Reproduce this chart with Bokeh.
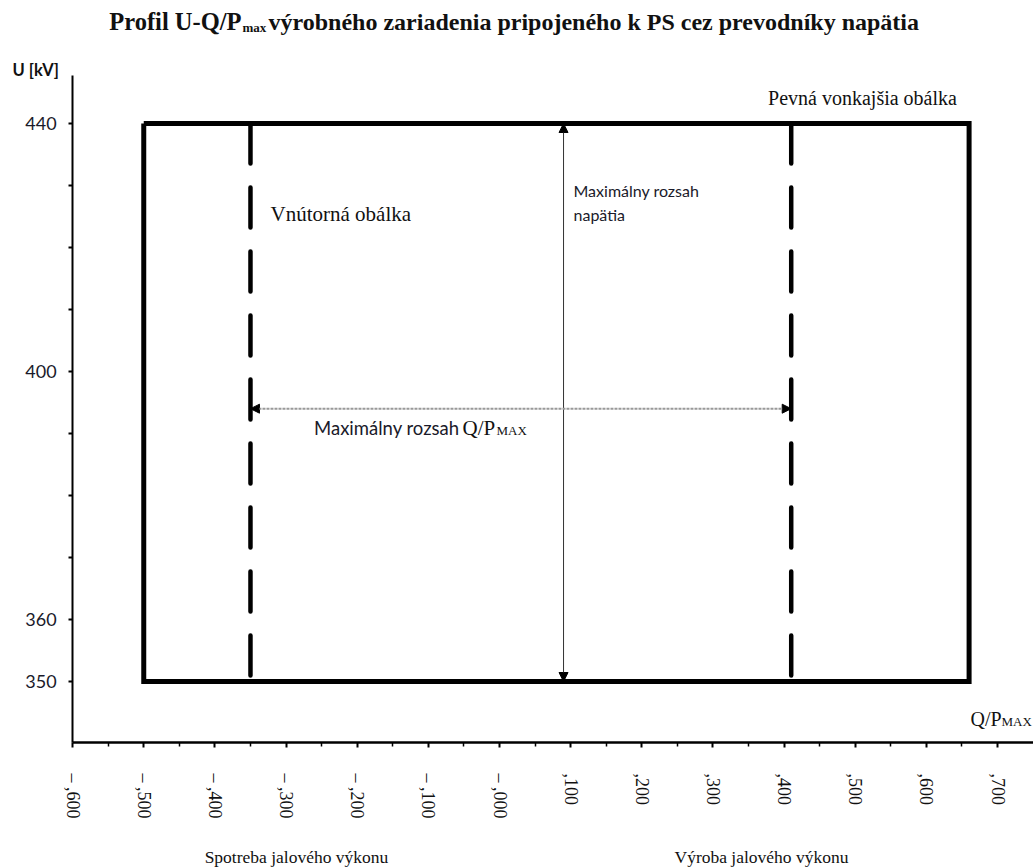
from bokeh.plotting import figure
from bokeh.models import Label, Arrow, NormalHead, FixedTicker, Range1d
from bokeh.embed import file_html
from bokeh.resources import INLINE

# ---------------- data ----------------
title_a = "Profil U-Q/P"
title_sub = "max"
title_b = "výrobného zariadenia pripojeného k PS cez prevodníky napätia"

outer_q = [-0.5, 0.66]          # fixed outer envelope, Q/Pmax
outer_u = [350, 440]            # fixed outer envelope, kV
inner_q = [-0.35, 0.41]         # inner envelope, Q/Pmax
inner_u = [350, 440]
voltage_arrow_q = 0.09
q_arrow_u = 394

x_ticks = [-0.6, -0.5, -0.4, -0.3, -0.2, -0.1, 0.0, 0.1, 0.2, 0.3, 0.4, 0.5, 0.6, 0.7]
x_tick_labels = ["– ,600", "– ,500", "– ,400", "– ,300", "– ,200", "– ,100", "– ,000",
                 ",100", ",200", ",300", ",400", ",500", ",600", ",700"]
x_minor_ticks = [-0.55, -0.45, -0.35, -0.25, -0.15, -0.05, 0.05, 0.15, 0.25, 0.35,
                 0.45, 0.55, 0.65]
y_ticks = [350, 360, 400, 440]
y_minor_ticks = [370, 380, 390, 410, 420, 430]

# ---------------- layout helpers (screen px -> data) ----------------
W, H = 1033, 868
X0, XS = 499.0, 711.5      # px of Q=0, px per unit Q
Y0, YS = 123.0, 6.2        # px of U=440, px per kV
def X(px):
    return (px - X0) / XS
def Y(py):
    return 440 - (py - Y0) / YS

p = figure(width=W, height=H, title=None,
           x_range=Range1d(X(0), X(W)), y_range=Range1d(Y(H), Y(0)),
           min_border_left=0, min_border_right=0, min_border_top=0, min_border_bottom=0,
           output_backend="svg", toolbar_location=None, tools="")
p.outline_line_color = None
p.xgrid.visible = False
p.ygrid.visible = False
p.background_fill_color = "white"
p.border_fill_color = "white"

# axes (drawn at fixed positions inside the frame)
xa = p.xaxis[0]
xa.fixed_location = Y(742)
xa.bounds = (x_ticks[0], X(W))
xa.ticker = FixedTicker(ticks=x_ticks, minor_ticks=x_minor_ticks)
xa.major_label_overrides = dict(zip(x_ticks, x_tick_labels))
xa.major_label_orientation = "vertical"
xa.major_label_text_font = "Liberation Serif"
xa.major_label_text_font_size = "18px"
xa.major_label_text_color = "#111111"
xa.major_label_standoff = 26
xa.axis_line_width = 2.5
xa.axis_line_color = "black"
xa.major_tick_in = 0
xa.major_tick_out = 5
xa.minor_tick_in = 0
xa.minor_tick_out = 4
xa.major_tick_line_width = 2
xa.minor_tick_line_width = 1.5

ya = p.yaxis[0]
ya.fixed_location = x_ticks[0]
ya.bounds = (Y(742), Y(75))
ya.ticker = FixedTicker(ticks=y_ticks, minor_ticks=y_minor_ticks)
ya.major_label_text_font = "Lato"
ya.major_label_text_font_size = "18px"
ya.major_label_text_color = "#1a1a2a"
ya.major_label_standoff = 12
ya.axis_line_width = 2
ya.axis_line_color = "black"
ya.major_tick_in = 0
ya.major_tick_out = 4
ya.minor_tick_in = 0
ya.minor_tick_out = 4
ya.major_tick_line_width = 2
ya.minor_tick_line_width = 2

# outer envelope rectangle
rect_q = [outer_q[0], outer_q[1], outer_q[1], outer_q[0], outer_q[0]]
rect_u = [outer_u[1], outer_u[1], outer_u[0], outer_u[0], outer_u[1]]
p.line(rect_q, rect_u, line_width=5, line_color="black", line_join="miter")

# inner envelope dashed lines
p.segment(x0=inner_q, y0=[inner_u[1]] * 2, x1=inner_q, y1=[inner_u[0]] * 2,
          line_width=4.5, line_color="black", line_dash="40 24", line_cap="round")

# arrows
def head():
    return NormalHead(size=9, fill_color="black", line_color="black", line_width=1)
p.add_layout(Arrow(start=head(), end=head(),
                   x_start=voltage_arrow_q, y_start=outer_u[0],
                   x_end=voltage_arrow_q, y_end=outer_u[1],
                   line_width=1, line_color="#333333"))
p.add_layout(Arrow(start=head(), end=head(),
                   x_start=inner_q[0], y_start=q_arrow_u,
                   x_end=inner_q[1], y_end=q_arrow_u,
                   line_width=2, line_color="#999999", line_dash="3 1"))

SERIF = "Liberation Serif"
SANS = "Lato"

def lab(px, py, text, font, size, align="left", base="middle", style="normal", color="#111111"):
    p.add_layout(Label(x=X(px), y=Y(py), text=text, text_font=font, text_font_size=size,
                       text_align=align, text_baseline=base, text_font_style=style,
                       text_color=color))

# title
lab(241, 21, title_a, SERIF, "24.5px", align="right", style="bold")
lab(242, 27, title_sub, SERIF, "13px", style="bold")
lab(268, 21, title_b, SERIF, "24px", style="bold")

# axis captions
lab(12, 69, "U [kV]", SANS, "16.5px", style="bold")
lab(970, 718, "Q/P", SERIF, "20px")
lab(1001, 721, "MAX", SERIF, "13px")
lab(296, 856, "Spotreba jalového výkonu", SERIF, "17.5px", align="center")
lab(761, 856, "Výroba jalového výkonu", SERIF, "17.5px", align="center")

# annotations
lab(862, 97, "Pevná vonkajšia obálka", SERIF, "20px", align="center")
lab(270, 213, "Vnútorná obálka", SERIF, "21px")
lab(573, 190, "Maximálny rozsah", SANS, "16px", color="#1a1a2a")
lab(573, 214, "napätia", SANS, "16px", color="#1a1a2a")
lab(459, 427, "Maximálny rozsah", SANS, "18.5px", align="right", color="#1a1a2a")
lab(462, 427, "Q/P", SERIF, "21px")
lab(496, 430, "MAX", SERIF, "13px")

open("out.html", "w").write(file_html(p, INLINE))
